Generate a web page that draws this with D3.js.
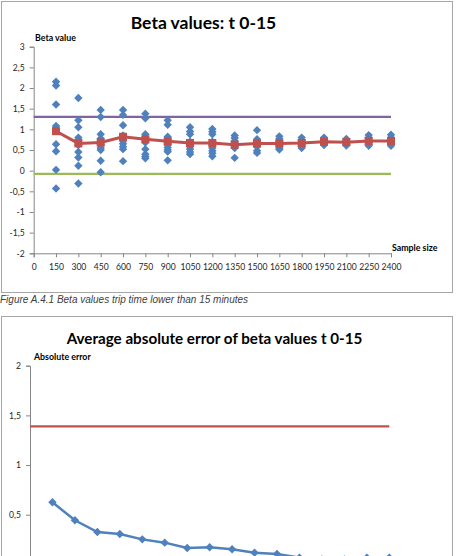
<!DOCTYPE html>
<html lang="en">
<head>
<meta charset="UTF-8">
<title>Beta values</title>
<script src="https://cdn.jsdelivr.net/npm/d3@7"></script>
<style>
    body { margin: 0; background: #fff; }
    svg { display: block; font-family: Lato, "DejaVu Sans", sans-serif; }
</style>
</head>
<body>
<div id="chart"></div>
<script>
// sample sizes on the x axis
const sampleSizes = [150, 300, 450, 600, 750, 900, 1050, 1200, 1350, 1500, 1650, 1800, 1950, 2100, 2250, 2400];
const xTickValues = [0, 150, 300, 450, 600, 750, 900, 1050, 1200, 1350, 1500, 1650, 1800, 1950, 2100, 2250, 2400];
const betaTicks = [3, 2.5, 2, 1.5, 1, 0.5, 0, -0.5, -1, -1.5, -2];
const errorTicks = [2, 1.5, 1, 0.5];

// individual beta estimates per sample size
const betaSamples = [
    [2.15, 2.06, 1.60, 1.08, 1.02, 0.64, 0.47, 0.02, -0.43],
    [1.76, 1.22, 1.05, 0.80, 0.75, 0.62, 0.45, 0.32, 0.12, -0.31],
    [1.47, 1.30, 0.88, 0.78, 0.70, 0.62, 0.55, 0.50, 0.24, -0.04],
    [1.47, 1.35, 1.10, 0.85, 0.78, 0.72, 0.65, 0.58, 0.52, 0.23],
    [1.38, 1.27, 0.88, 0.80, 0.78, 0.68, 0.52, 0.40, 0.34, 0.30],
    [1.22, 1.11, 0.82, 0.76, 0.68, 0.62, 0.56, 0.50, 0.46, 0.25],
    [1.05, 0.95, 0.88, 0.70, 0.64, 0.58, 0.52, 0.45, 0.40],
    [1.01, 0.94, 0.88, 0.70, 0.62, 0.55, 0.48, 0.42, 0.35],
    [0.85, 0.79, 0.72, 0.65, 0.60, 0.55, 0.31],
    [0.98, 0.76, 0.70, 0.64, 0.58, 0.48, 0.43],
    [0.83, 0.77, 0.72, 0.66, 0.60, 0.55, 0.51],
    [0.80, 0.74, 0.69, 0.64, 0.58, 0.55],
    [0.80, 0.75, 0.70, 0.66, 0.62],
    [0.77, 0.72, 0.68, 0.64, 0.61],
    [0.86, 0.80, 0.74, 0.68, 0.63, 0.60],
    [0.87, 0.80, 0.74, 0.70, 0.64, 0.60]
];
// mean beta per sample size
const betaMean = [0.955, 0.66, 0.68, 0.82, 0.76, 0.71, 0.67, 0.67, 0.63, 0.66, 0.66, 0.67, 0.70, 0.69, 0.72, 0.72];
const upperLine = 1.30;
const lowerLine = -0.08;

// average absolute error per sample size
const absError = [0.625, 0.444, 0.326, 0.306, 0.252, 0.219, 0.165, 0.172, 0.152, 0.118, 0.105, 0.068, 0.05, 0.05, 0.068, 0.068];
const errorLine = 1.39;

const width = 456, height = 556;
const fmt = d => String(d).replace(".", ",");
const axisColor = "#868686";
const textColor = "#262626";
const diamondPath = "M0,-4.2L4.2,0L0,4.2L-4.2,0Z";

const svg = d3.select("#chart").append("svg")
    .attr("width", width)
    .attr("height", height);

function styleAxis(g) {
    g.selectAll("path, line").attr("stroke", axisColor);
    g.selectAll("text").attr("fill", textColor).attr("font-size", 8.6).attr("font-family", "Lato, sans-serif");
}

// ---------- chart 1 ----------
svg.append("rect")
    .attr("x", 1.5).attr("y", 1.5)
    .attr("width", 451).attr("height", 291)
    .attr("fill", "#fff").attr("stroke", "#a6a6a6");

const x1 = d3.scaleLinear().domain([0, 2400]).range([33.7, 391]);
const y1 = d3.scaleLinear().domain([-2, 3]).range([253.3, 46.7]);

svg.append("text")
    .attr("x", 203.5).attr("y", 29)
    .attr("text-anchor", "middle")
    .attr("font-size", 17.5).attr("font-weight", "bold")
    .attr("fill", "#000")
    .text("Beta values: t 0-15");

svg.append("text")
    .attr("x", 35).attr("y", 40.5)
    .attr("font-size", 8.8).attr("font-weight", "bold")
    .attr("fill", "#000")
    .text("Beta value");

const yAxis1 = svg.append("g")
    .attr("transform", `translate(${x1(0)},0)`)
    .call(d3.axisLeft(y1).tickValues(betaTicks).tickFormat(fmt).tickSize(4).tickPadding(5));

const xAxis1 = svg.append("g")
    .attr("transform", `translate(0,${y1(-2)})`)
    .call(d3.axisBottom(x1).tickValues(xTickValues).tickFormat(d => d).tickSize(4).tickPadding(7));

styleAxis(yAxis1);
styleAxis(xAxis1);

svg.append("text")
    .attr("x", 392).attr("y", 251)
    .attr("font-size", 8.8).attr("font-weight", "bold")
    .attr("fill", "#000")
    .text("Sample size");

// reference lines
svg.append("line")
    .attr("x1", x1(0)).attr("x2", x1(2400))
    .attr("y1", y1(upperLine)).attr("y2", y1(upperLine))
    .attr("stroke", "#8064A2").attr("stroke-width", 2.2);
svg.append("line")
    .attr("x1", x1(0)).attr("x2", x1(2400))
    .attr("y1", y1(lowerLine)).attr("y2", y1(lowerLine))
    .attr("stroke", "#9BBB59").attr("stroke-width", 2.2);

// scatter of beta values
const pts = [];
sampleSizes.forEach((s, i) => betaSamples[i].forEach(v => pts.push({ s, v })));
svg.append("g")
    .selectAll("path")
    .data(pts)
    .join("path")
    .attr("d", diamondPath)
    .attr("transform", d => `translate(${x1(d.s)},${y1(d.v)})`)
    .attr("fill", "#4F81BD");

// mean line
const meanData = sampleSizes.map((s, i) => ({ s, v: betaMean[i] }));
svg.append("path")
    .datum(meanData)
    .attr("d", d3.line().x(d => x1(d.s)).y(d => y1(d.v)))
    .attr("fill", "none")
    .attr("stroke", "#C0504D")
    .attr("stroke-width", 3);
svg.append("g")
    .selectAll("rect")
    .data(meanData)
    .join("rect")
    .attr("x", d => x1(d.s) - 4).attr("y", d => y1(d.v) - 4)
    .attr("width", 8).attr("height", 8)
    .attr("fill", "#C0504D");

// caption
svg.append("text")
    .attr("x", 0).attr("y", 302.5)
    .attr("font-family", "Liberation Sans, Arial, sans-serif")
    .attr("font-style", "italic")
    .attr("font-size", 10)
    .attr("fill", "#404040")
    .text("Figure A.4.1 Beta values trip time lower than 15 minutes");

// ---------- chart 2 ----------
svg.append("rect")
    .attr("x", 1.5).attr("y", 316.5)
    .attr("width", 451).attr("height", 300)
    .attr("fill", "#fff").attr("stroke", "#a6a6a6");

const x2 = d3.scaleLinear().domain([0, 2400]).range([30, 389.3]);
const y2 = d3.scaleLinear().domain([0, 2]).range([564.4, 365.7]);

svg.append("text")
    .attr("x", 214.5).attr("y", 344)
    .attr("text-anchor", "middle")
    .attr("font-size", 15.2).attr("font-weight", "bold")
    .attr("fill", "#000")
    .text("Average absolute error of beta values t 0-15");

svg.append("text")
    .attr("x", 34).attr("y", 360)
    .attr("font-size", 8.8).attr("font-weight", "bold")
    .attr("fill", "#000")
    .text("Absolute error");

const yAxis2 = svg.append("g")
    .attr("transform", `translate(${x2(0)},0)`)
    .call(d3.axisLeft(y2).tickValues(errorTicks).tickFormat(fmt).tickSize(4).tickPadding(5));
styleAxis(yAxis2);

svg.append("line")
    .attr("x1", x2(0)).attr("x2", x2(2400))
    .attr("y1", y2(errorLine)).attr("y2", y2(errorLine))
    .attr("stroke", "#C0504D").attr("stroke-width", 2.2);

const errData = sampleSizes.map((s, i) => ({ s, v: absError[i] }));
svg.append("path")
    .datum(errData)
    .attr("d", d3.line().x(d => x2(d.s)).y(d => y2(d.v)))
    .attr("fill", "none")
    .attr("stroke", "#4F81BD")
    .attr("stroke-width", 2.5);
svg.append("g")
    .selectAll("path")
    .data(errData)
    .join("path")
    .attr("d", diamondPath)
    .attr("transform", d => `translate(${x2(d.s)},${y2(d.v)})`)
    .attr("fill", "#4F81BD");
</script>
</body>
</html>
